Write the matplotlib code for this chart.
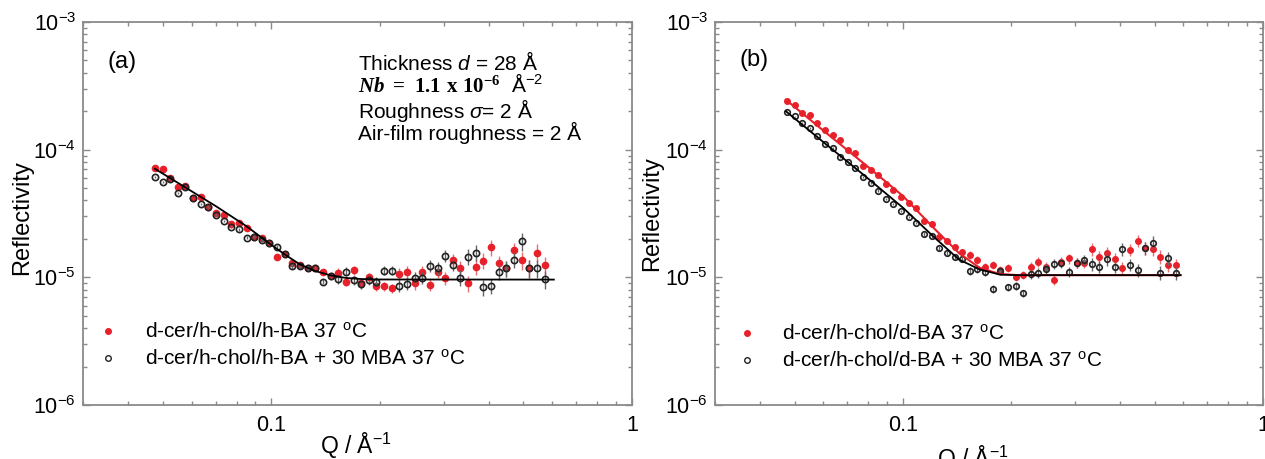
import numpy as np
import matplotlib
matplotlib.use("Agg")
import matplotlib.pyplot as plt
from matplotlib.lines import Line2D
from matplotlib.ticker import NullFormatter

plt.rcParams['font.family'] = ['Liberation Sans', 'DejaVu Sans']
plt.rcParams['mathtext.fontset'] = 'custom'
plt.rcParams['mathtext.rm'] = 'Liberation Sans'
plt.rcParams['mathtext.it'] = 'Liberation Sans:italic'
plt.rcParams['mathtext.bf'] = 'Liberation Serif:bold'
plt.rcParams['mathtext.bfit'] = 'Liberation Serif:bold:italic'

# momentum transfer points (same for both measurements)
q = [0.0475, 0.0499, 0.0524, 0.0550, 0.0577, 0.0606, 0.0637, 0.0668, 0.0702, 0.0737,
     0.0774, 0.0812, 0.0853, 0.0896, 0.0940, 0.0987, 0.1037, 0.1089, 0.1143, 0.1200,
     0.1260, 0.1323, 0.1390, 0.1459, 0.1532, 0.1609, 0.1689, 0.1773, 0.1862, 0.1955,
     0.2053, 0.2156, 0.2263, 0.2377, 0.2495, 0.2620, 0.2751, 0.2889, 0.3033, 0.3185,
     0.3344, 0.3511, 0.3687, 0.3871, 0.4065, 0.4268, 0.4481, 0.4705, 0.4941, 0.5188,
     0.5447, 0.5719]

# (a) h-BA
r_a_red = [7.15e-5, 7.03e-5, 5.97e-5, 5.08e-5, 5.20e-5, 4.16e-5, 4.23e-5, 3.58e-5, 3.18e-5, 3.08e-5,
           2.62e-5, 2.68e-5, 2.45e-5, 2.08e-5, 2.02e-5, 1.85e-5, 1.44e-5, 1.52e-5, 1.30e-5, 1.25e-5,
           1.18e-5, 1.18e-5, 1.11e-5, 1.03e-5, 1.09e-5, 9.25e-6, 1.14e-5, 8.99e-6, 1.00e-5, 8.57e-6,
           8.57e-6, 8.22e-6, 1.06e-5, 1.10e-5, 8.99e-6, 1.11e-5, 8.73e-6, 1.11e-5, 9.84e-6, 1.37e-5,
           1.18e-5, 8.99e-6, 1.21e-5, 1.35e-5, 1.72e-5, 1.30e-5, 1.18e-5, 1.64e-5, 1.37e-5, 1.18e-5,
           1.56e-5, 1.25e-5]
r_a_black = [6.15e-5, 5.62e-5, 5.86e-5, 4.60e-5, 5.08e-5, 4.16e-5, 3.76e-5, 3.54e-5, 3.08e-5, 2.78e-5,
             2.50e-5, 2.38e-5, 2.05e-5, 2.08e-5, 1.96e-5, 1.85e-5, 1.74e-5, 1.52e-5, 1.23e-5, 1.23e-5,
             1.18e-5, 1.18e-5, 9.25e-6, 1.03e-5, 9.66e-6, 1.11e-5, 9.55e-6, 8.88e-6, 9.55e-6, 9.25e-6,
             1.13e-5, 1.13e-5, 8.57e-6, 8.88e-6, 9.84e-6, 9.95e-6, 1.23e-5, 1.18e-5, 1.47e-5, 1.25e-5,
             9.95e-6, 1.45e-5, 1.56e-5, 8.36e-6, 8.57e-6, 1.11e-5, 1.18e-5, 1.37e-5, 1.91e-5, 1.18e-5,
             1.18e-5, 9.73e-6]
err_a = [0.02, 0.02, 0.02, 0.02, 0.02, 0.02, 0.02, 0.02, 0.02, 0.02,
         0.03, 0.03, 0.03, 0.03, 0.03, 0.03, 0.03, 0.03, 0.05, 0.05,
         0.05, 0.05, 0.05, 0.05, 0.08, 0.08, 0.08, 0.08, 0.08, 0.08,
         0.08, 0.08, 0.11, 0.11, 0.11, 0.11, 0.11, 0.11, 0.11, 0.11,
         0.14, 0.14, 0.14, 0.14, 0.14, 0.14, 0.14, 0.14, 0.16, 0.16,
         0.16, 0.16]
fit_a_q = [0.0475, 0.0577, 0.0702, 0.0853, 0.0987, 0.1089, 0.1200, 0.1323, 0.1460, 0.1610, 0.1773, 0.2000, 0.6070]
fit_a_r = [7.08e-5, 5.06e-5, 3.60e-5, 2.51e-5, 1.84e-5, 1.51e-5, 1.26e-5, 1.12e-5, 1.035e-5, 9.89e-6, 9.70e-6, 9.62e-6, 9.60e-6]

# (b) d-BA
r_b_red = [2.42e-4, 2.24e-4, 1.95e-4, 1.87e-4, 1.63e-4, 1.43e-4, 1.30e-4, 1.19e-4, 9.95e-5, 9.37e-5,
           7.45e-5, 6.93e-5, 6.34e-5, 5.39e-5, 4.83e-5, 4.28e-5, 3.80e-5, 3.47e-5, 2.78e-5, 2.62e-5,
           2.08e-5, 1.91e-5, 1.74e-5, 1.59e-5, 1.50e-5, 1.37e-5, 1.20e-5, 1.25e-5, 1.14e-5, 1.18e-5,
           1.00e-5, 1.04e-5, 1.21e-5, 1.33e-5, 1.21e-5, 9.55e-6, 1.33e-5, 1.41e-5, 1.30e-5, 1.29e-5,
           1.66e-5, 1.44e-5, 1.55e-5, 1.39e-5, 1.18e-5, 1.64e-5, 1.94e-5, 1.69e-5, 1.66e-5, 1.45e-5,
           1.25e-5, 1.24e-5]
r_b_black = [1.99e-4, 1.82e-4, 1.61e-4, 1.47e-4, 1.28e-4, 1.10e-4, 1.03e-4, 8.71e-5, 8.05e-5, 7.15e-5,
             6.08e-5, 5.52e-5, 4.78e-5, 4.08e-5, 3.73e-5, 3.33e-5, 2.95e-5, 2.65e-5, 2.19e-5, 2.11e-5,
             1.69e-5, 1.56e-5, 1.45e-5, 1.39e-5, 1.13e-5, 1.16e-5, 1.11e-5, 8.07e-6, 1.13e-5, 8.36e-6,
             8.55e-6, 7.50e-6, 1.06e-5, 1.08e-5, 1.16e-5, 1.27e-5, 1.30e-5, 1.11e-5, 1.30e-5, 1.37e-5,
             1.27e-5, 1.21e-5, 1.39e-5, 1.21e-5, 1.66e-5, 1.25e-5, 1.14e-5, 1.69e-5, 1.87e-5, 1.09e-5,
             1.41e-5, 1.08e-5]
err_b = [0.015, 0.015, 0.015, 0.015, 0.015, 0.015, 0.015, 0.015, 0.015, 0.015,
         0.02, 0.02, 0.02, 0.02, 0.02, 0.02, 0.02, 0.02, 0.04, 0.04,
         0.04, 0.04, 0.04, 0.04, 0.07, 0.07, 0.07, 0.07, 0.07, 0.07,
         0.07, 0.07, 0.09, 0.09, 0.09, 0.09, 0.09, 0.09, 0.09, 0.09,
         0.11, 0.11, 0.11, 0.11, 0.11, 0.11, 0.11, 0.11, 0.12, 0.12,
         0.12, 0.12]
fit_b_q = [0.0472, 0.0604, 0.0785, 0.1000, 0.1222, 0.1429, 0.1629, 0.1858, 0.2100, 0.5900]
fit_b_red = [2.46e-4, 1.39e-4, 7.63e-5, 4.32e-5, 2.40e-5, 1.55e-5, 1.19e-5, 1.06e-5, 1.04e-5, 1.04e-5]
fit_b_black = [2.00e-4, 1.13e-4, 6.19e-5, 3.50e-5, 2.05e-5, 1.38e-5, 1.155e-5, 1.05e-5, 1.04e-5, 1.04e-5]

labels_a = ['d-cer/h-chol/h-BA 37 $^{\\rm o}$C', 'd-cer/h-chol/h-BA + 30 MBA 37 $^{\\rm o}$C']
labels_b = ['d-cer/h-chol/d-BA 37 $^{\\rm o}$C', 'd-cer/h-chol/d-BA + 30 MBA 37 $^{\\rm o}$C']
xtick_vals = [0.1, 1]
xtick_labels = ['0.1', '1']

RED = '#e8202a'
BLK = '#222222'
GREY = '#8a8a8a'


def style_axes(ax):
    ax.set_xscale('log')
    ax.set_yscale('log')
    ax.set_xlim(0.03, 1)
    ax.set_ylim(1e-6, 1e-3)
    ax.set_xticks(xtick_vals)
    ax.set_xticklabels(xtick_labels)
    ax.xaxis.set_minor_formatter(NullFormatter())
    ax.yaxis.set_minor_formatter(NullFormatter())
    for s in ax.spines.values():
        s.set_color(GREY)
        s.set_linewidth(1.3)
    ax.tick_params(which='both', direction='in', top=True, right=True, color=GREY, width=1)
    ax.tick_params(which='major', length=5)
    ax.tick_params(which='minor', length=3)
    ax.tick_params(axis='x', labelsize=15.5, pad=7)
    ax.tick_params(axis='y', labelsize=15.5, pad=5)
    ax.set_ylabel('Reflectivity', fontsize=17)


def draw_series(ax, r_red, r_black, err, ms):
    r_red = np.array(r_red)
    r_black = np.array(r_black)
    err = np.array(err)
    ax.errorbar(q, r_red, yerr=r_red * err, fmt='o', color=RED, ms=ms, mec=RED,
                ecolor='#e87070', elinewidth=1, capsize=0, zorder=2)
    ax.errorbar(q, r_black, yerr=r_black * err, fmt='o', mfc='none', mec=BLK, mew=1.2,
                ms=ms, ecolor='#666666', elinewidth=1, capsize=0, zorder=3)


def add_legend(ax, labels, x0, ytop, pad):
    handles = [Line2D([], [], ls='none', marker='o', color=RED, ms=4),
               Line2D([], [], ls='none', marker='o', mfc='none', mec=BLK, mew=1, ms=4)]
    ax.legend(handles, labels, loc='upper left', bbox_to_anchor=(x0, ytop), frameon=False,
              fontsize=15, handlelength=1.0, handletextpad=pad, labelspacing=0.34,
              borderpad=0, borderaxespad=0)


fig = plt.figure(figsize=(12.65, 4.59), dpi=100)
ax_a = fig.add_axes([83 / 1265, 54 / 459, 549 / 1265, 383 / 459])
ax_b = fig.add_axes([715 / 1265, 54 / 459, 548 / 1265, 383 / 459])

# panel (a)
style_axes(ax_a)
draw_series(ax_a, r_a_red, r_a_black, err_a, 4.5)
ax_a.plot(fit_a_q, fit_a_r, color='black', lw=1.3, zorder=4)
ax_a.set_xlabel('Q / Å$^{-1}$', fontsize=16.5)
ax_a.xaxis.set_label_coords(0.497, -0.068)
ax_a.yaxis.set_label_coords(-0.09, 0.49)
ax_a.text(0.0455, 0.896, '(a)', transform=ax_a.transAxes, fontsize=17, va='center')
ax_a.text(0.501, 0.893, 'Thickness $\\mathit{d}$ = 28 Å', transform=ax_a.transAxes, fontsize=15, va='center')
ax_a.text(0.501, 0.838, '$\\mathbfit{Nb}\\ \\mathbf{{=}\\ 1.1\\ x\\ 10^{-6}}$  Å$^{-2}$',
          transform=ax_a.transAxes, fontsize=15, va='center')
ax_a.text(0.501, 0.768, 'Roughness $\\sigma$= 2 Å', transform=ax_a.transAxes, fontsize=15, va='center')
ax_a.text(0.501, 0.710, 'Air-film roughness = 2 Å', transform=ax_a.transAxes, fontsize=15, va='center')
add_legend(ax_a, labels_a, 0.0266, 0.217, 1.28)

# panel (b)
style_axes(ax_b)
draw_series(ax_b, r_b_red, r_b_black, err_b, 4.0)
ax_b.plot(fit_b_q, fit_b_red, color=RED, lw=1.5, zorder=4)
ax_b.plot(fit_b_q, fit_b_black, color='black', lw=1.3, zorder=5)
ax_b.set_xlabel('Q / Å$^{-1}$', fontsize=16.5)
ax_b.xaxis.set_label_coords(0.47, -0.1)
ax_b.yaxis.set_label_coords(-0.095, 0.50)
ax_b.text(0.0456, 0.90, '(b)', transform=ax_b.transAxes, fontsize=17, va='center')
add_legend(ax_b, labels_b, 0.0394, 0.212, 1.18)

fig.savefig('out.png', dpi=100)
